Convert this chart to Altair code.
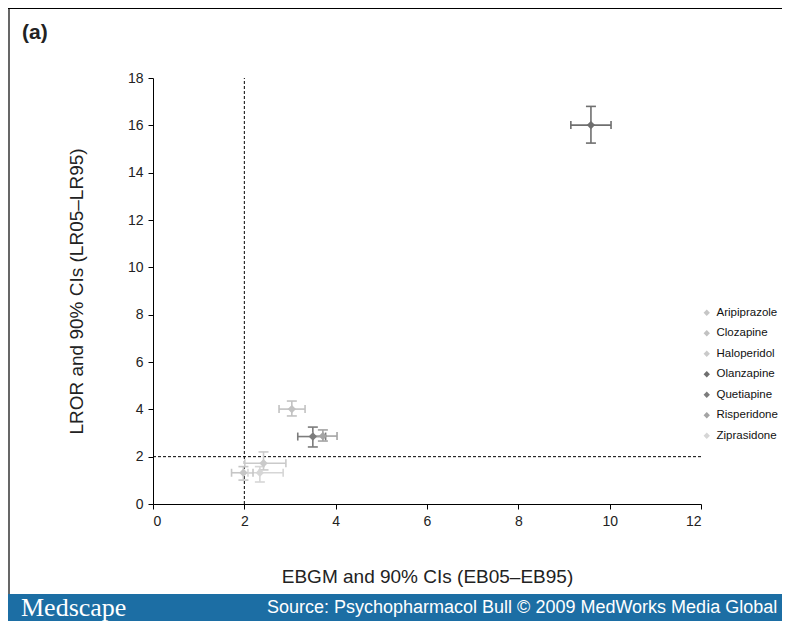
import altair as alt
import pandas as pd

drugs = ["Aripiprazole", "Clozapine", "Haloperidol", "Olanzapine", "Quetiapine", "Risperidone", "Ziprasidone"]
ebgm = [1.98, 3.04, 2.42, 9.59, 3.50, 3.72, 2.34]
eb05 = [1.72, 2.76, 2.01, 9.15, 3.17, 3.50, 2.08]
eb95 = [2.19, 3.33, 2.91, 10.03, 3.78, 4.03, 2.85]
lror = [1.32, 4.01, 1.72, 16.01, 2.85, 2.87, 1.32]
lr05 = [1.01, 3.72, 1.44, 15.25, 2.41, 2.66, 0.93]
lr95 = [1.58, 4.35, 2.20, 16.80, 3.25, 3.13, 1.58]
colors = ["#c6c6c6", "#c2c2c2", "#cacaca", "#6f6f6f", "#7c7c7c", "#a4a4a4", "#d6d6d6"]

x_ticks = [0, 2, 4, 6, 8, 10, 12]
y_ticks = [0, 2, 4, 6, 8, 10, 12, 14, 16, 18]
ref_x = [2]
ref_y = [2]

df = pd.DataFrame({"drug": drugs, "ebgm": ebgm, "eb05": eb05, "eb95": eb95,
                   "lror": lror, "lr05": lr05, "lr95": lr95})

W, H = 548, 426
PL, PT = 145, 70
TW, TH = 774, 613
PR = TW - PL - W
PB = TH - PT - H

FONT = "Liberation Sans"

xs = alt.Scale(domain=[0, 12], nice=False, zero=False)
ys = alt.Scale(domain=[0, 18], nice=False, zero=False)
cs = alt.Scale(domain=drugs, range=colors)

color_enc = alt.Color("drug:N", scale=cs, legend=alt.Legend(
    title=None, orient="none", legendX=548, legendY=229, symbolType="diamond",
    symbolSize=40, labelFontSize=11.5, labelFont=FONT, labelColor="#111",
    rowPadding=7.5, labelLimit=200, symbolOpacity=1, symbolStrokeWidth=0,
    labelOffset=4))

base = alt.Chart(df)

xaxis = alt.Axis(values=x_ticks, title="EBGM and 90% CIs (EB05–EB95)", grid=False,
                 domainColor="black", tickColor="black", tickSize=5, labelFontSize=14,
                 labelColor="#222", titleFontSize=19, titleFontWeight="normal",
                 titleColor="#222", titlePadding=39, labelPadding=5, labelFont=FONT, titleFont=FONT)
yaxis = alt.Axis(values=y_ticks, title="LROR and 90% CIs (LR05–LR95)", grid=False,
                 domainColor="black", tickColor="black", tickSize=5, labelFontSize=14,
                 labelColor="#222", titleFontSize=19, titleFontWeight="normal",
                 titleColor="#222", titlePadding=41, labelPadding=5, labelFont=FONT, titleFont=FONT)

points = base.mark_point(filled=True, shape="diamond", size=70, opacity=1).encode(
    x=alt.X("ebgm:Q", scale=xs, axis=xaxis),
    y=alt.Y("lror:Q", scale=ys, axis=yaxis),
    color=color_enc,
)

hbar = base.mark_rule(strokeWidth=1.6).encode(
    x="eb05:Q", x2="eb95:Q", y="lror:Q", color=color_enc)
vbar = base.mark_rule(strokeWidth=1.6).encode(
    y="lr05:Q", y2="lr95:Q", x="ebgm:Q", color=color_enc)

capx_lo = base.mark_tick(orient="vertical", size=8, thickness=1.6, opacity=1).encode(
    x="eb05:Q", y="lror:Q", color=color_enc)
capx_hi = base.mark_tick(orient="vertical", size=8, thickness=1.6, opacity=1).encode(
    x="eb95:Q", y="lror:Q", color=color_enc)
capy_lo = base.mark_tick(orient="horizontal", size=10, thickness=1.6, opacity=1).encode(
    x="ebgm:Q", y="lr05:Q", color=color_enc)
capy_hi = base.mark_tick(orient="horizontal", size=10, thickness=1.6, opacity=1).encode(
    x="ebgm:Q", y="lr95:Q", color=color_enc)

vref = alt.Chart(pd.DataFrame({"x": ref_x, "y0": [0], "y1": [18]})).mark_rule(
    color="black", strokeWidth=1, strokeDash=[3, 2]).encode(x="x:Q", y="y0:Q", y2="y1:Q")
href = alt.Chart(pd.DataFrame({"y": ref_y, "x0": [0], "x1": [12]})).mark_rule(
    color="black", strokeWidth=1, strokeDash=[3, 2]).encode(y="y:Q", x="x0:Q", x2="x1:Q")

deco = alt.Chart(pd.DataFrame({"k": [0]}))

footer = deco.mark_rect(color="#1c6ea4").encode(
    x=alt.value(-PL), x2=alt.value(W + PR), y=alt.value(H + 90), y2=alt.value(H + PB))
frame_left = deco.mark_rule(color="black", strokeWidth=1.2).encode(
    x=alt.value(-PL + 1), y=alt.value(-PT), y2=alt.value(H + 90))
frame_top = deco.mark_rule(color="black", strokeWidth=1.2).encode(
    x=alt.value(-PL), x2=alt.value(W + PR), y=alt.value(-PT + 0.5))

label_a = deco.mark_text(text="(a)", font=FONT, fontSize=21, fontWeight="bold",
                         align="left", baseline="alphabetic", color="#222").encode(
    x=alt.value(-PL + 14), y=alt.value(-39))
medscape = deco.mark_text(text="Medscape", font="Liberation Serif", fontSize=26,
                          align="left", baseline="middle", color="white").encode(
    x=alt.value(-PL + 13), y=alt.value(H + 90 + 14))
source = deco.mark_text(text="Source: Psychopharmacol Bull © 2009 MedWorks Media Global",
                        font=FONT, fontSize=18, align="left", baseline="middle",
                        color="white").encode(
    x=alt.value(-PL + 259), y=alt.value(H + 90 + 14))

chart = alt.layer(
    vref, href, hbar, vbar, capx_lo, capx_hi, capy_lo, capy_hi, points,
    footer, frame_left, frame_top, label_a, medscape, source
).properties(
    width=W, height=H,
    autosize=alt.AutoSizeParams(type="none"),
    padding={"left": PL, "top": PT, "right": PR, "bottom": PB},
).configure(background="white", view=alt.ViewConfig(stroke=None))

chart.save("out.html", embed_options={"renderer": "svg", "actions": False})
